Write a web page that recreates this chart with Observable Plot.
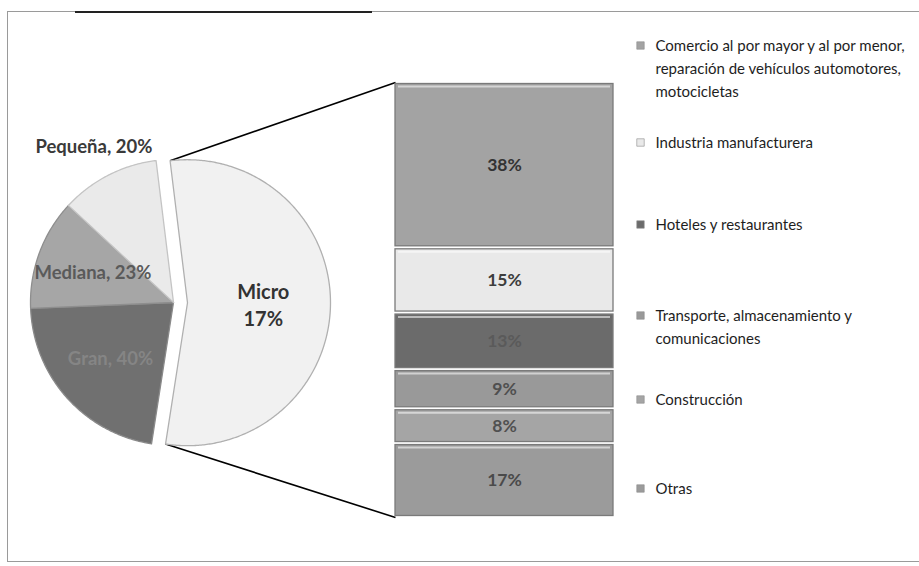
<!DOCTYPE html>
<html><head><meta charset="utf-8">
<script src="https://cdn.jsdelivr.net/npm/d3@7"></script>
<script src="https://cdn.jsdelivr.net/npm/@observablehq/plot@0.6"></script>
<style>
html,body{margin:0;padding:0;background:#fff;}
#wrap{position:relative;width:919px;height:566px;overflow:hidden;background:#fff;}
#frame{position:absolute;left:7px;top:11px;width:940px;height:551px;border:1.5px solid #9a9a9a;box-sizing:border-box;}
#topdark{position:absolute;left:75px;top:11px;width:297px;height:2px;background:#222;}
.layer{position:absolute;left:0;top:0;}
.layer svg{overflow:visible;}
</style></head><body>
<div id="wrap"><div id="frame"></div><div id="topdark"></div><div id="pie" class="layer"></div><div id="bar" class="layer"></div></div>
<script>
// ---------- DATA ----------
const pieCategories = ["Micro", "Gran", "Mediana", "Pequeña"];
const pieLabelValues = [17, 40, 23, 20];          // percentages printed on the slices
const pieSweep = [54.4, 21.9, 12.5, 11.2];         // share of the circle each slice covers in the picture
const barCategories = [
  "Comercio al por mayor y al por menor,\nreparación de vehículos automotores,\nmotocicletas",
  "Industria manufacturera",
  "Hoteles y restaurantes",
  "Transporte, almacenamiento y\ncomunicaciones",
  "Construcción",
  "Otras"
];
const barValues = [38, 15, 13, 9, 8, 17];

// ---------- STYLE / LAYOUT ----------
const W = 919, H = 566;
const pieColors = ["#f1f1f1", "#707070", "#a6a6a6", "#eaeaea"];
const pieStrokes = ["#b0b0b0", "#8a8a8a", "#8e8e8e", "#c4c4c4"];
const pieLabelFill = ["#333333", "#858585", "#5a5a5a", "#3a3a3a"];
const pieLabelRadius = [0.53, 0.59, 0.6, 1.22];
const barColors = ["#a3a3a3", "#e9e9e9", "#6b6b6b", "#999999", "#a5a5a5", "#9b9b9b"];
const barLabelFill = ["#333333", "#3d3d3d", "#5a5a5a", "#4f4f4f", "#505050", "#4a4a4a"];
const cx = 173, cy = 302, R = 143, explode = 14, startDeg = -7;
const bar = {left: 395, right: 613, top: 82, bottom: 517};
const legendX = 655, legendY = [34, 131, 213, 304, 388, 477];
const font = "Lato, 'Open Sans', sans-serif";

// ---------- BAR (stacked, own plot) ----------
const barData = barCategories.map((c, i) => ({cat: c, value: barValues[i], color: barColors[i], lab: barLabelFill[i], col: "bar"}));
const barPlot = Plot.plot({
  width: W, height: H,
  marginLeft: bar.left, marginRight: W - bar.right, marginTop: bar.top, marginBottom: H - bar.bottom,
  x: {domain: ["bar"], padding: 0, axis: null},
  y: {domain: [0, 100], reverse: true, axis: null},
  color: {type: "identity"},
  style: {background: "transparent", fontFamily: font},
  marks: [
    Plot.barY(barData, Plot.stackY({x: "col", y: "value", fill: "color", stroke: "#7a7a7a", strokeWidth: 1.3, insetTop: 1.5, insetBottom: 1.5, order: null})),
    Plot.ruleY(barData, Plot.stackY1({y: "value", stroke: "rgba(255,255,255,0.55)", strokeWidth: 2, dy: 4, insetLeft: 3, insetRight: 3, order: null})),
    Plot.text(barData, Plot.stackY({x: "col", y: "value", text: d => d.value + "%", fill: "lab", fontSize: 17.5, fontWeight: "bold", letterSpacing: "-0.3px", order: null}))
  ]
});
document.getElementById("bar").appendChild(barPlot);

// ---------- PIE ----------
const toRad = Math.PI / 180;
const arcs = d3.pie().sort(null).startAngle(startDeg * toRad).endAngle((startDeg + 360) * toRad)(pieSweep);
const polyPts = [];
const sliceInfo = arcs.map((a, i) => {
  const mid = (a.startAngle + a.endAngle) / 2;
  const off = i === 0 ? explode : 0;
  const ox = cx + off * Math.sin(mid), oy = cy - off * Math.cos(mid);
  polyPts.push({slice: i, x: ox, y: oy, fill: pieColors[i], stroke: pieStrokes[i]});
  const n = Math.max(2, Math.ceil((a.endAngle - a.startAngle) / 0.01));
  for (let k = 0; k <= n; k++) {
    const t = a.startAngle + (a.endAngle - a.startAngle) * k / n;
    polyPts.push({slice: i, x: ox + R * Math.sin(t), y: oy - R * Math.cos(t), fill: pieColors[i], stroke: pieStrokes[i]});
  }
  return {ox, oy, mid, a0: a.startAngle, a1: a.endAngle};
});
const pieLabels = pieCategories.map((c, i) => {
  const s = sliceInfo[i], r = R * pieLabelRadius[i];
  return {
    x: s.ox + r * Math.sin(s.mid), y: s.oy - r * Math.cos(s.mid),
    text: i === 0 ? `${c}\n${pieLabelValues[i]}%` : `${c}, ${pieLabelValues[i]}%`,
    fill: pieLabelFill[i]
  };
});

// connectors from the exploded slice edges to the bar corners (via the bar plot's scales)
const xs = barPlot.scale("x"), ys = barPlot.scale("y");
const barLeft = xs.apply("bar");
const m = sliceInfo[0];
const connectors = [
  {x1: m.ox + R * Math.sin(m.a0), y1: m.oy - R * Math.cos(m.a0), x2: barLeft, y2: ys.apply(0)},
  {x1: m.ox + R * Math.sin(m.a1), y1: m.oy - R * Math.cos(m.a1), x2: barLeft, y2: ys.apply(100)}
];

const legendData = barCategories.map((c, i) => ({text: c, y: legendY[i], color: barColors[i]}));

const main = Plot.plot({
  width: W, height: H, margin: 0,
  x: {domain: [0, W], range: [0, W], axis: null},
  y: {domain: [0, H], range: [0, H], axis: null},
  color: {type: "identity"},
  style: {background: "transparent", fontFamily: font},
  marks: [
    Plot.link(connectors, {x1: "x1", y1: "y1", x2: "x2", y2: "y2", stroke: "#000", strokeWidth: 1.6}),
    Plot.line(polyPts, {x: "x", y: "y", z: "slice", fill: "fill", stroke: "stroke", strokeWidth: 1.3, curve: "linear-closed"}),
    Plot.text(pieLabels.filter((d, i) => i !== 0), {x: "x", y: "y", text: "text", fill: "fill", fontSize: 18.5, fontWeight: "bold", letterSpacing: "-0.3px"}),
    Plot.text(pieLabels.filter((d, i) => i === 0), {x: "x", y: "y", text: "text", fill: "fill", fontSize: 20, fontWeight: "bold", lineHeight: 1.35}),
    Plot.dot(legendData, {x: legendX - 15, y: d => d.y + 11, symbol: "square", r: 4.2, fill: "color", stroke: "#8a8a8a", strokeWidth: 0.6}),
    Plot.text(legendData, {x: legendX, y: "y", text: "text", textAnchor: "start", lineAnchor: "top", fill: "#1e1e1e", fontSize: 15, lineHeight: 1.53, letterSpacing: "-0.5px"})
  ]
});
document.getElementById("pie").appendChild(main);
</script>
</body></html>
